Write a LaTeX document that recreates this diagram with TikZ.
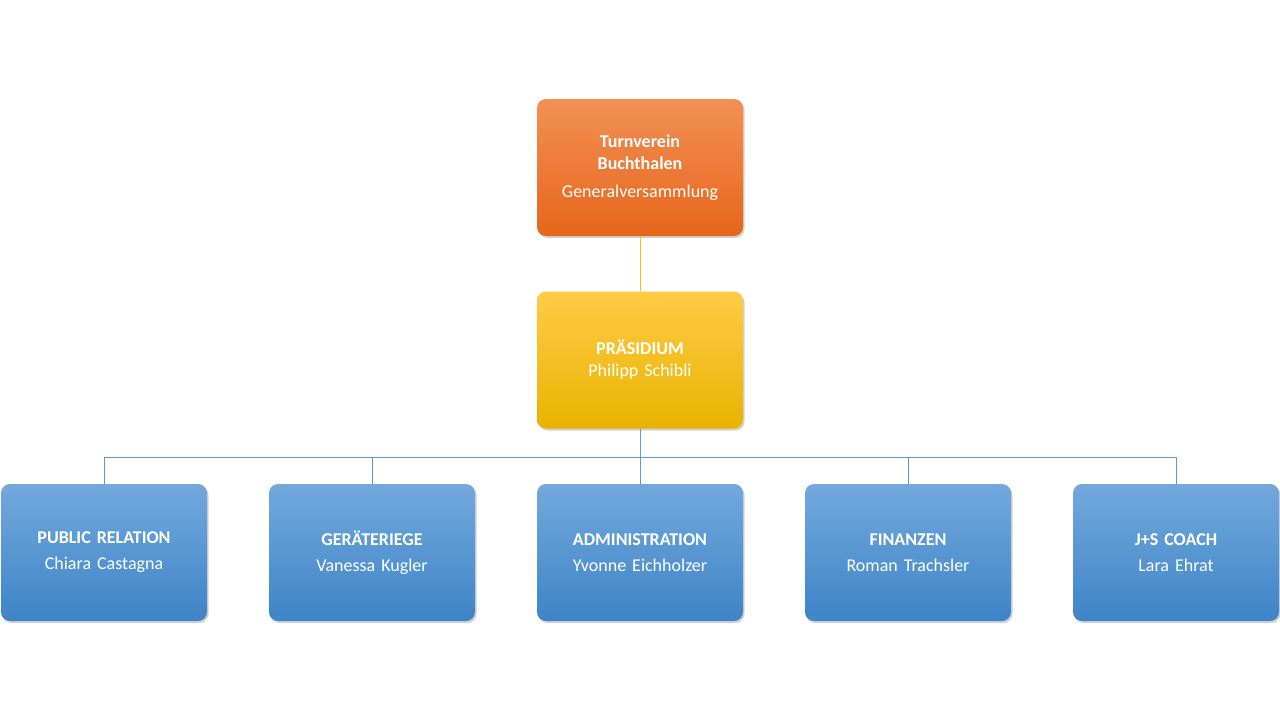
\documentclass[tikz,border=0pt]{standalone}
\usepackage{fontspec}
\setmainfont{Carlito}
\usetikzlibrary{shadows}
\definecolor{orangetop}{HTML}{F29055}
\definecolor{orangebot}{HTML}{E6661A}
\definecolor{yellowtop}{HTML}{FFCB45}
\definecolor{yellowbot}{HTML}{E8B300}
\definecolor{bluetop}{HTML}{72A9DD}
\definecolor{bluebot}{HTML}{3E84C6}
\definecolor{blueline}{HTML}{5B9BD5}
\definecolor{yellowline}{HTML}{FFC000}
\begin{document}
\begin{tikzpicture}[x=1pt,y=-1pt]
		\tikzstyle{orgbox}=[rectangle,
		rounded corners=9pt,
		minimum width=206pt,
		minimum height=137pt,
		text width=196pt,
		align=center,
		text=white,
		font=\fontsize{18}{22}\selectfont,
		drop shadow={shadow xshift=1.5pt,shadow yshift=-2pt,opacity=0.35}
		]
		\tikzstyle{orangebox}=[orgbox,top color=orangetop,bottom color=orangebot]
		\tikzstyle{yellowbox}=[orgbox,top color=yellowtop,bottom color=yellowbot]
		\tikzstyle{bluebox}=[orgbox,top color=bluetop,bottom color=bluebot]
		
		\fill[white] (0,0) rectangle (1280,720);
		
		\node[orangebox] (verein) at (640, 167.5) {\textbf{Turnverein}\\\textbf{Buchthalen}\\[6pt]Generalversammlung};
		\node[yellowbox] (praes) at (640, 360) {\textbf{PRÄSIDIUM}\\Philipp Schibli};
		
		\node[bluebox] (pr) at (104, 552.5) {\textbf{PUBLIC RELATION}\\[4pt]Chiara Castagna};
		\node[bluebox] (geraet) at (372, 552.5) {\textbf{GERÄTERIEGE}\\[4pt]Vanessa Kugler};
		\node[bluebox] (admin) at (640, 552.5) {\textbf{ADMINISTRATION}\\[4pt]Yvonne Eichholzer};
		\node[bluebox] (fin) at (908, 552.5) {\textbf{FINANZEN}\\[4pt]Roman Trachsler};
		\node[bluebox] (js) at (1176, 552.5) {\textbf{J+S COACH}\\[4pt]Lara Ehrat};
		
		\coordinate (bus) at (640, 457);
		
		\draw[yellowline] (verein) -- (praes);
		\draw[blueline] (praes) -- (bus);
		\foreach \n in {pr,geraet,admin,fin,js}
		\draw[blueline] (bus) -| (\n.north);
\end{tikzpicture}
\end{document}
